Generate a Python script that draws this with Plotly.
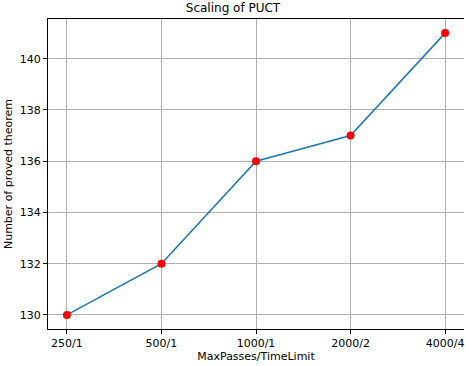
import plotly.graph_objects as go

settings = ["250/1", "500/1", "1000/1", "2000/2", "4000/4"]
proved = [130, 132, 136, 137, 141]
y_ticks = [130, 132, 134, 136, 138, 140]

font = "DejaVu Sans"

fig = go.Figure()
fig.add_trace(go.Scatter(
    x=list(range(len(settings))),
    y=proved,
    mode="lines",
    line=dict(color="#1f77b4", width=1.6),
    showlegend=False,
))
fig.add_trace(go.Scatter(
    x=list(range(len(settings))),
    y=proved,
    mode="markers",
    marker=dict(color="red", size=8),
    showlegend=False,
))

fig.update_layout(
    width=466,
    height=366,
    paper_bgcolor="white",
    plot_bgcolor="white",
    margin=dict(l=48, r=2, t=19, b=37, autoexpand=False),
    font=dict(family=font, size=11, color="black"),
    title=dict(text="Scaling of PUCT", x=0.5, xanchor="center", y=0.99,
               yanchor="top", font=dict(size=12)),
    xaxis=dict(
        range=[-0.2, 4.2],
        tickvals=list(range(len(settings))),
        ticktext=settings,
        showgrid=True, gridcolor="#b0b0b0", gridwidth=1,
        showline=True, linecolor="black", linewidth=1, mirror=True,
        ticks="outside", ticklen=4, tickcolor="black",
        zeroline=False, automargin=False,
        title=dict(text="MaxPasses/TimeLimit", standoff=3, font=dict(size=11)),
    ),
    yaxis=dict(
        range=[129.45, 141.55],
        tickvals=y_ticks,
        showgrid=True, gridcolor="#b0b0b0", gridwidth=1,
        showline=True, linecolor="black", linewidth=1,
        ticks="outside", ticklen=4, tickcolor="black",
        zeroline=False, automargin=False,
        title=dict(text="Number of proved theorem", standoff=4, font=dict(size=11)),
    ),
)

fig.write_html("out.html", config={"displayModeBar": False},
               post_script="document.body.style.margin='0';")
